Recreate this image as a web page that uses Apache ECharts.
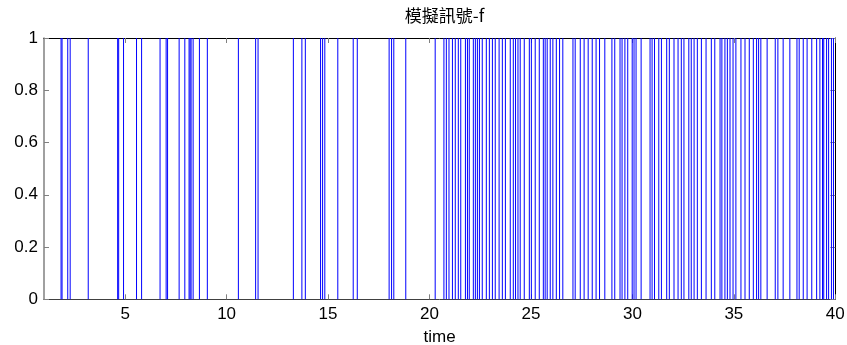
<!DOCTYPE html>
<html>
<head>
<meta charset="utf-8">
<script src="https://cdn.jsdelivr.net/npm/echarts@6/dist/echarts.min.js"></script>
<style>
  html, body { margin: 0; padding: 0; background: #fff; }
  #chart { width: 847px; height: 345px; }
</style>
</head>
<body>
<div id="chart"></div>
<script>
// Event times (seconds) where the simulated signal f switches to 1
const sparseTimes = [
  1.84, 1.89, 2.17, 2.29, 3.18, 4.63, 4.68, 4.92, 5.56, 5.81, 6.72, 7.02, 7.09,
  7.66, 7.94, 8.15, 8.20, 8.25, 8.35, 8.66, 9.05, 10.58, 11.43, 11.55, 13.29,
  13.71, 13.88, 14.63, 14.73, 14.84, 15.48, 16.24, 16.44, 18.01, 18.13, 18.24, 18.83
];
const denseTimes = [
  20.28, 20.71, 20.83, 20.96, 21.13, 21.27, 21.42, 21.54, 21.77, 21.87, 21.96,
  22.16, 22.26, 22.36, 22.46, 22.60, 22.80, 22.95, 23.10, 23.24, 23.43, 23.59,
  23.74, 23.98, 24.13, 24.24, 24.36, 24.47, 24.67, 24.92, 25.02, 25.21, 25.41,
  25.61, 25.70, 25.80, 25.95, 26.08, 26.25, 26.41, 26.57, 27.07, 27.18, 27.43,
  27.62, 27.82, 28.02, 28.21, 28.38, 28.64, 28.99, 29.13, 29.39, 29.49, 29.63,
  29.77, 29.99, 30.08, 30.18, 30.43, 30.87, 30.97, 31.09, 31.30, 31.43, 31.69,
  31.82, 32.05, 32.25, 32.41, 32.54, 32.78, 32.90, 33.04, 33.20, 33.40, 33.63,
  33.89, 34.06, 34.32, 34.41, 34.56, 34.68, 34.81, 34.96, 35.10, 35.35, 35.55,
  35.76, 35.96, 36.12, 36.22, 36.33, 36.64, 37.04, 37.17, 37.43, 37.76, 38.11,
  38.22, 38.42, 38.61, 38.84, 39.08, 39.24, 39.37, 39.43, 39.57, 39.67, 39.81, 39.91
];
const signalLevel = 1;
const xTicks = [5, 10, 15, 20, 25, 30, 35, 40];
const yTicks = [0, 0.2, 0.4, 0.6, 0.8, 1];
const titleText = '模擬訊號-f';
const xLabelText = 'time';

const spikes = sparseTimes.concat(denseTimes).map(t => [t, signalLevel]);

const latin = "'Liberation Sans', Arial, Helvetica, sans-serif";
const tickStyle = { show: true, inside: true, length: 5, lineStyle: { color: '#808080', width: 1 } };

const chart = echarts.init(document.getElementById('chart'), null, { renderer: 'canvas' });
chart.setOption({
  animation: false,
  backgroundColor: '#fff',
  title: {
    text: titleText,
    left: 439.5,
    textAlign: 'center',
    top: 2,
    textStyle: { fontFamily: "'Noto Sans CJK TC', 'Noto Sans CJK SC', sans-serif", fontSize: 17, fontWeight: 'normal', color: '#000' }
  },
  grid: { left: 44, right: 11.7, top: 38, bottom: 45.7, outerBoundsMode: 'none', containLabel: false },
  xAxis: [
    {
      type: 'value', min: 1, max: 40, position: 'bottom',
      name: xLabelText, nameLocation: 'middle', nameGap: 30,
      nameTextStyle: { fontFamily: latin, fontSize: 17, color: '#000' },
      axisLine: { show: true, onZero: false, lineStyle: { color: '#404040', width: 1 } },
      axisTick: Object.assign({ customValues: xTicks }, tickStyle),
      axisLabel: { customValues: xTicks, fontFamily: latin, fontSize: 17, color: '#000', margin: 7 },
      splitLine: { show: false }
    },
    {
      type: 'value', min: 1, max: 40, position: 'top',
      axisLine: { show: true, onZero: false, lineStyle: { color: '#000', width: 1 } },
      axisTick: Object.assign({ customValues: xTicks }, tickStyle),
      axisLabel: { show: false },
      splitLine: { show: false }
    }
  ],
  yAxis: [
    {
      type: 'value', min: 0, max: 1, interval: 0.2, position: 'left',
      axisLine: { show: true, onZero: false, lineStyle: { color: '#808080', width: 1.5 } },
      axisTick: tickStyle,
      axisLabel: { fontFamily: latin, fontSize: 17, color: '#000', margin: 6 },
      splitLine: { show: false }
    },
    {
      type: 'value', min: 0, max: 1, interval: 0.2, position: 'right',
      axisLine: { show: true, onZero: false, lineStyle: { color: '#000', width: 1 } },
      axisTick: tickStyle,
      axisLabel: { show: false },
      splitLine: { show: false }
    }
  ],
  series: [
    {
      type: 'bar',
      xAxisIndex: 0, yAxisIndex: 0,
      data: spikes,
      barWidth: 1,
      itemStyle: { color: '#0000ff' },
      silent: true,
      z: 1
    }
  ]
});
</script>
</body>
</html>
